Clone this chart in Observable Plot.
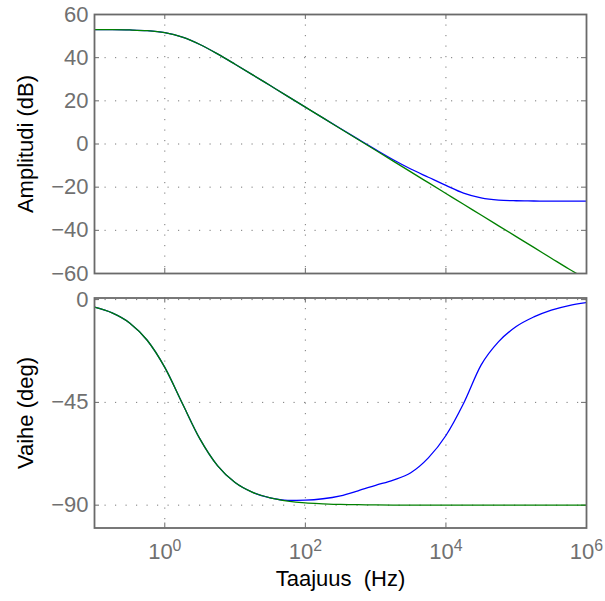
<!DOCTYPE html>
<html>
<head>
<meta charset="utf-8">
<script src="https://cdn.jsdelivr.net/npm/d3@7"></script>
<script src="https://cdn.jsdelivr.net/npm/@observablehq/plot@0.6"></script>
<style>
  body { margin: 0; background: #fff; }
  #chart { position: relative; width: 605px; height: 601px; background: #fff; }
  #chart svg { position: absolute; left: 0; }
</style>
</head>
<body>
<div id="chart"></div>
<script>
// ---- Data ----
const freqs = [0.1, 0.178, 0.316, 0.562, 1, 1.78, 3.16, 5.62, 10, 17.8, 31.6, 56.2,
  100, 178, 316, 562, 1000, 1780, 3160, 5620, 10000, 17800, 31600, 56200,
  100000, 178000, 316000, 562000, 1000000];

const greenAmp = [52.98, 52.95, 52.83, 52.5, 51.57, 49.51, 46.1, 41.75, 36.97, 32.05, 27.08, 22.09,
  17.08, 12.08, 7.08, 2.08, -2.92, -7.92, -12.92, -17.92, -22.92, -27.92, -32.92, -37.92,
  -42.92, -47.92, -52.92, -57.92, -62.6];

const blueAmp = [52.98, 52.95, 52.83, 52.5, 51.57, 49.51, 46.1, 41.75, 36.97, 32.05, 27.08, 22.09,
  17.08, 12.08, 7.15, 2.25, -2.6, -7.3, -11.6, -15.4, -19.2, -22.8, -25.0, -26.0,
  -26.3, -26.4, -26.5, -26.5, -26.5];

const greenPhase = [-3.3, -5.8, -10.2, -17.8, -29.7, -45.5, -61.0, -72.7, -80.1, -84.4, -86.8, -88.2,
  -89.0, -89.4, -89.7, -89.8, -89.9, -89.95, -89.97, -89.98, -90, -90, -90, -90,
  -90, -90, -90, -90, -90];

const bluePhase = [-3.3, -5.8, -10.2, -17.8, -29.7, -45.5, -61.0, -72.7, -80.1, -84.4, -86.8, -87.9,
  -87.8, -87.2, -85.9, -83.7, -81.3, -79.0, -75.8, -69.3, -59.5, -45.5, -28.7, -18.4,
  -11.8, -7.6, -4.6, -2.6, -1.3];

const ampTicks = [-60, -40, -20, 0, 20, 40, 60];
const phaseTicks = [-90, -45, 0];
const xTicks = [1, 100, 10000, 1000000];
const xTickExp = ["0", "2", "4", "6"];
const xGrid = [1, 100, 10000];

const ampLabel = "Amplitudi (dB)";
const phaseLabel = "Vaihe (deg)";
const xLabel = "Taajuus  (Hz)";

const seriesColors = {blue: "#0000ff", green: "#008000"};

// ---- Tables ----
const ampData = [
  ...freqs.map((f, i) => ({f, v: blueAmp[i], s: "blue"})),
  ...freqs.map((f, i) => ({f, v: greenAmp[i], s: "green"}))
];
const phaseData = [
  ...freqs.map((f, i) => ({f, v: bluePhase[i], s: "blue"})),
  ...freqs.map((f, i) => ({f, v: greenPhase[i], s: "green"}))
];

// ---- Layout ----
const W = 605;
const mL = 94, mR = 19;
const plotW = W - mL - mR;
const gridStyle = {stroke: "#7a7a7a", strokeWidth: 1, strokeDasharray: "1.2,9.3"};
const frameColor = "#6a6a6a";
const tickLen = 5;
const font = "'Liberation Sans', Arial, Helvetica, sans-serif";
const fs = 22;

function panel({height, marginTop, marginBottom, yDomain, yTicks, yGrid, data, label, showX}) {
  const plotH = height - marginTop - marginBottom;
  return Plot.plot({
    width: W, height, marginLeft: mL, marginRight: mR, marginTop, marginBottom,
    style: {fontFamily: font, fontSize: fs + "px", color: "#707070", background: "transparent", overflow: "visible"},
    x: {
      type: "log", domain: [0.1, 1e6],
      ticks: xTicks,
      tickFormat: d => "10^" + xTickExp[xTicks.indexOf(d)],
      tickSize: 0, tickPadding: 15, label: null,
      axis: showX ? "bottom" : null
    },
    y: {domain: yDomain, ticks: yTicks, tickSize: 0, tickPadding: 6, label: null},
    marks: [
      Plot.ruleY(yGrid, {...gridStyle}),
      Plot.ruleX(xGrid, {...gridStyle}),
      Plot.tickY(yTicks, {stroke: frameColor, insetRight: plotW - tickLen}),
      Plot.tickY(yTicks, {stroke: frameColor, insetLeft: plotW - tickLen}),
      Plot.tickX(xGrid, {stroke: frameColor, insetTop: plotH - tickLen}),
      Plot.tickX(xGrid, {stroke: frameColor, insetBottom: plotH - tickLen}),
      Plot.line(data, {x: "f", y: "v", z: "s", stroke: d => seriesColors[d.s], strokeWidth: 1.3, curve: "monotone-x", clip: true}),
      Plot.frame({stroke: frameColor, strokeWidth: 1.8}),
      Plot.text([label], {text: d => d, frameAnchor: "left", textAnchor: "middle", rotate: -90, dx: -69, fill: "black", fontSize: fs}),
      ...(showX ? [Plot.text([xLabel], {text: d => d, frameAnchor: "bottom", textAnchor: "middle", dy: 58, fill: "black", fontSize: fs})] : [])
    ]
  });
}

const topPanel = panel({
  height: 285, marginTop: 14, marginBottom: 12,
  yDomain: [-60, 60], yTicks: ampTicks, yGrid: [-40, -20, 0, 20, 40],
  data: ampData, label: ampLabel, showX: false
});
const bottomPanel = panel({
  height: 316, marginTop: 12.5, marginBottom: 73.5,
  yDomain: [-100, 0.7], yTicks: phaseTicks, yGrid: [-90, -45, 0],
  data: phaseData, label: phaseLabel, showX: true
});

topPanel.style.top = "0px";
bottomPanel.style.top = "285px";
const chart = document.getElementById("chart");
chart.appendChild(topPanel);
chart.appendChild(bottomPanel);

// superscript exponents on the x tick labels
d3.select(bottomPanel).selectAll("text").each(function() {
  const t = this.textContent;
  if (t.startsWith("10^")) {
    const exp = t.slice(3);
    const sel = d3.select(this);
    sel.text("10");
    sel.append("tspan").attr("dy", "-0.5em").attr("font-size", "0.72em").text(exp);
  }
});
// keep the double space in the x label
d3.select(bottomPanel).selectAll("text").filter(function() { return this.textContent === xLabel; })
  .style("white-space", "pre");
</script>
</body>
</html>
